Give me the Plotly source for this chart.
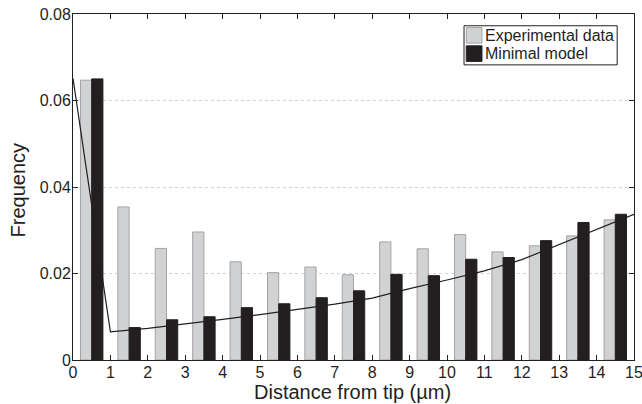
import plotly.graph_objects as go

bin_centers = [0.5, 1.5, 2.5, 3.5, 4.5, 5.5, 6.5, 7.5, 8.5, 9.5, 10.5, 11.5, 12.5, 13.5, 14.5]
experimental = [0.0647, 0.0354, 0.0258, 0.0296, 0.0227, 0.0202, 0.0215, 0.0197,
                0.0273, 0.0257, 0.0290, 0.0250, 0.0264, 0.0287, 0.0324]
minimal_model = [0.0650, 0.0075, 0.0093, 0.0100, 0.0121, 0.0130, 0.0144, 0.0160,
                 0.0198, 0.0195, 0.0233, 0.0237, 0.0276, 0.0318, 0.0337]
curve_x = [0, 1, 2, 3, 4, 5, 6, 7, 8, 9, 10, 11, 12, 13, 14, 15]
curve_y = [0.0651, 0.0065, 0.0073, 0.0083, 0.0094, 0.0105, 0.0117, 0.0129,
           0.0143, 0.0165, 0.0185, 0.0206, 0.0232, 0.0267, 0.0302, 0.0337]
x_ticks = list(range(0, 16))
y_ticks = [0, 0.02, 0.04, 0.06, 0.08]
y_tick_text = ["0", "0.02", "0.04", "0.06", "0.08"]
legend_labels = ["Experimental data", "Minimal model"]
x_title = "Distance from tip (µm)"
y_title = "Frequency"

font = "Liberation Sans, Arial, sans-serif"
ink = "#231f20"
grey_fill = "#d1d2d4"
grey_line = "#a3a3a3"

fig = go.Figure()
fig.add_trace(go.Bar(
    x=bin_centers, y=experimental, name=legend_labels[0], showlegend=False,
    marker=dict(color=grey_fill, line=dict(color=grey_line, width=1)),
))
fig.add_trace(go.Bar(
    x=bin_centers, y=minimal_model, name=legend_labels[1], showlegend=False,
    marker=dict(color=ink, line=dict(color=ink, width=1)),
))
fig.add_trace(go.Scatter(
    x=curve_x, y=curve_y, mode="lines", showlegend=False,
    line=dict(color=ink, width=1.2),
))

# custom legend (paper coordinates of the plot area)
shapes = [
    dict(type="rect", xref="paper", yref="paper", x0=0.697, x1=0.970, y0=0.853, y1=0.966,
         line=dict(color=ink, width=1), fillcolor="white", layer="above"),
    dict(type="rect", xref="paper", yref="paper", x0=0.701, x1=0.729, y0=0.916, y1=0.961,
         line=dict(color=grey_line, width=1), fillcolor=grey_fill, layer="above"),
    dict(type="rect", xref="paper", yref="paper", x0=0.701, x1=0.729, y0=0.863, y1=0.908,
         line=dict(color=ink, width=1), fillcolor=ink, layer="above"),
]
annotations = [
    dict(text=legend_labels[0], xref="paper", yref="paper", x=0.731, y=0.939,
         xanchor="left", yanchor="middle", showarrow=False, font=dict(size=16, color=ink)),
    dict(text=legend_labels[1], xref="paper", yref="paper", x=0.731, y=0.886,
         xanchor="left", yanchor="middle", showarrow=False, font=dict(size=16, color=ink)),
    dict(text=x_title, xref="paper", yref="paper", x=0.499, y=-0.0925,
         xanchor="center", yanchor="middle", showarrow=False, font=dict(size=20, color=ink)),
    dict(text=y_title, xref="paper", yref="paper", x=-0.098, y=0.49, textangle=-90,
         xanchor="center", yanchor="middle", showarrow=False, font=dict(size=20, color=ink)),
]

fig.update_layout(
    width=642, height=404,
    margin=dict(l=73, r=8, t=14, b=44),
    paper_bgcolor="white", plot_bgcolor="white",
    barmode="group", bargap=0.4, bargroupgap=0,
    font=dict(family=font, size=16, color=ink),
    showlegend=False,
    shapes=shapes, annotations=annotations,
)
fig.update_xaxes(
    range=[0, 15], tickvals=x_ticks, ticks="inside", ticklen=5,
    tickcolor=ink, showline=True, linecolor=ink, linewidth=1,
    mirror="ticks", showgrid=False, zeroline=False, automargin=False,
    tickfont=dict(size=16), ticklabelstandoff=-2, ticklabeloverflow="allow",
)
fig.update_yaxes(
    range=[0, 0.08], tickvals=y_ticks, ticktext=y_tick_text, ticks="inside",
    ticklen=5, tickcolor=ink, showline=True, linecolor=ink,
    linewidth=1, mirror="ticks", showgrid=True, gridcolor="#d4d4d4",
    griddash="dot", gridwidth=0.8, zeroline=False, automargin=False,
    tickfont=dict(size=16), ticklabelstandoff=-2, ticklabeloverflow="allow",
)

fig.write_html("out.html", config={"displayModeBar": False})

# remove the default page margin so the figure sits at the window's corner
with open("out.html", "r", encoding="utf-8") as f:
    html = f.read()
html = html.replace("<head>", "<head><style>html,body{margin:0;padding:0;overflow:hidden}</style>", 1)
with open("out.html", "w", encoding="utf-8") as f:
    f.write(html)
